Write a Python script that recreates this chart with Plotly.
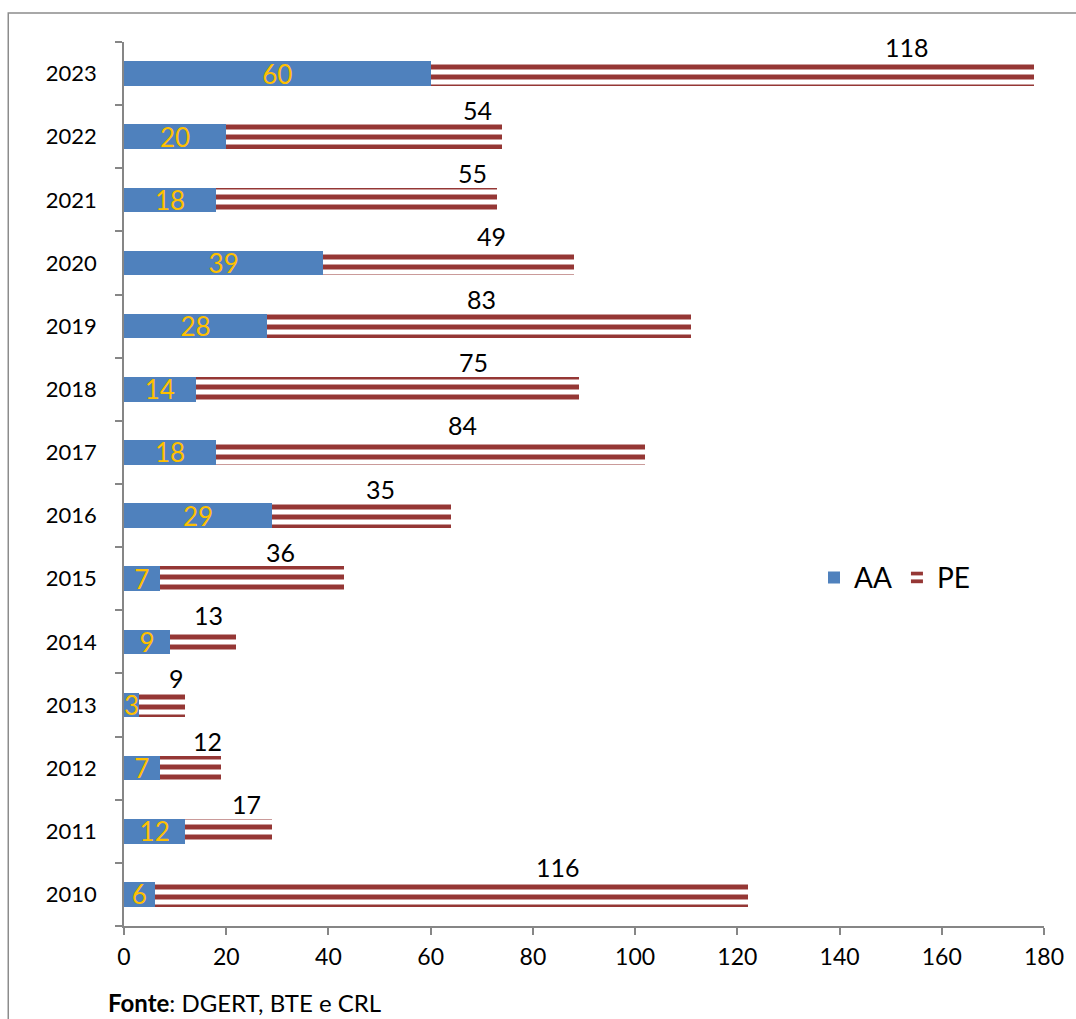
import plotly.graph_objects as go

years = ["2010", "2011", "2012", "2013", "2014", "2015", "2016",
         "2017", "2018", "2019", "2020", "2021", "2022", "2023"]
aa = [6, 12, 7, 3, 9, 7, 29, 18, 14, 28, 39, 18, 20, 60]
pe = [116, 17, 12, 9, 13, 36, 35, 84, 75, 83, 49, 55, 54, 118]
# where Excel's PE data labels sit along the value axis
pe_label_at = [85, 24, 16.4, 10.2, 16.6, 30.6, 50.2, 66.2, 68.3, 69.9, 71.9, 68.1, 69.1, 153.1]
x_ticks = [0, 20, 40, 60, 80, 100, 120, 140, 160, 180]

FONT = "Lato, Carlito, Calibri, sans-serif"
AXIS_GRAY = "#868686"

fig = go.Figure()
fig.add_trace(go.Bar(
    y=years, x=aa, orientation="h", name="AA",
    marker=dict(color="#4F81BD", line=dict(width=0)),
    text=[str(v) for v in aa], textposition="inside", insidetextanchor="middle",
    textangle=0, constraintext="none",
    textfont=dict(color="#FFC000", size=26, family=FONT),
    cliponaxis=False, hoverinfo="skip",
))
fig.add_trace(go.Bar(
    y=years, x=pe, orientation="h", name="PE",
    marker=dict(color="white", line=dict(width=0),
                pattern=dict(shape="-", fgcolor="#953735", bgcolor="white",
                             fgopacity=1, size=10, solidity=0.5, fillmode="replace")),
    hoverinfo="skip",
))

for i, (lx, v) in enumerate(zip(pe_label_at, pe)):
    fig.add_annotation(x=lx, y=i, text=str(v), showarrow=False,
                       yshift=27, font=dict(size=25, color="black", family=FONT))

fig.add_annotation(xref="paper", yref="paper", x=-0.0195, y=-0.087,
                   xanchor="left", yanchor="middle", showarrow=False,
                   text="<b>Fonte</b>: DGERT, BTE e CRL",
                   font=dict(size=24, color="black", family=FONT))

fig.add_shape(type="rect", xref="paper", yref="paper",
              x0=-0.1258, x1=1.04, y0=-0.115, y1=1.0328,
              line=dict(color="#8C8C8C", width=1.5), fillcolor="rgba(0,0,0,0)",
              layer="below")

fig.update_layout(
    width=1076, height=1019,
    margin=dict(l=124, r=30, t=42, b=93),
    barmode="stack", bargap=0.61,
    plot_bgcolor="white", paper_bgcolor="white",
    font=dict(family=FONT, size=22, color="black"),
    showlegend=True,
    legend=dict(orientation="h", x=0.75, y=0.394, xanchor="left", yanchor="middle",
                font=dict(size=28, family=FONT), itemwidth=30,
                bgcolor="rgba(0,0,0,0)", traceorder="normal"),
    xaxis=dict(range=[0, 180], tickvals=x_ticks, ticks="outside", ticklen=7,
               tickcolor=AXIS_GRAY, tickwidth=1.5, showline=True, linecolor=AXIS_GRAY,
               linewidth=1.5, showgrid=False, zeroline=False, ticklabelstandoff=3,
               tickfont=dict(size=23, family=FONT), fixedrange=True),
    yaxis=dict(type="category", categoryorder="array", categoryarray=years,
               range=[-0.5, len(years) - 0.5], autorange=False,
               ticks="outside", tickson="boundaries", ticklen=7, tickcolor=AXIS_GRAY,
               tickwidth=1.5, showline=True, linecolor=AXIS_GRAY, linewidth=1.5,
               showgrid=False, zeroline=False, ticklabelstandoff=21,
               tickfont=dict(size=22, family=FONT), fixedrange=True),
)

fig.write_html("out.html")
